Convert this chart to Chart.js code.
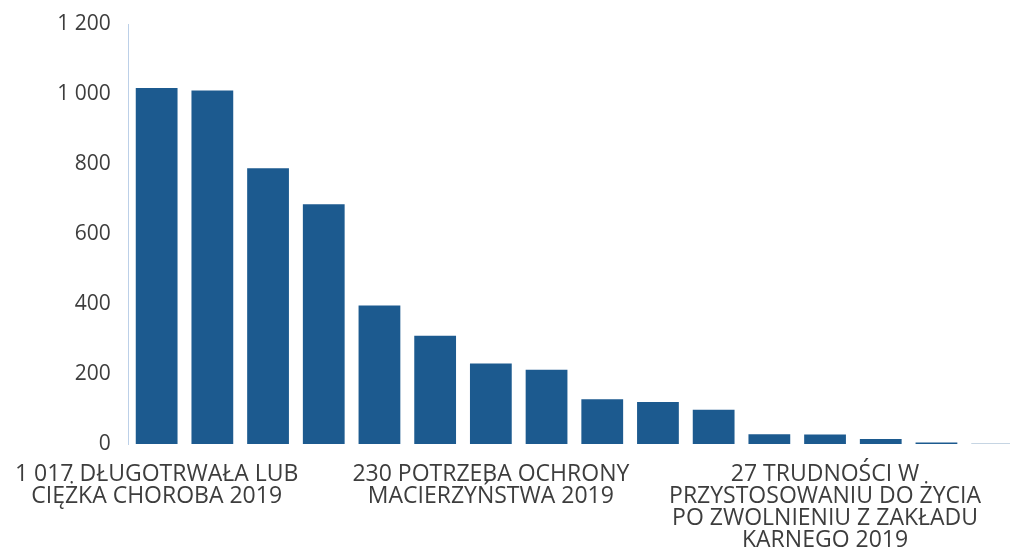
<!DOCTYPE html>
<html lang="pl">
<head>
<meta charset="utf-8">
<title>Powody przyznania pomocy 2019</title>
<script src="https://cdn.jsdelivr.net/npm/chart.js@4/dist/chart.umd.min.js"></script>
<style>
  html, body { margin: 0; padding: 0; background: #fff; overflow: hidden; }
  #wrap { position: absolute; left: 0; top: 0; width: 1020px; height: 550px; }
</style>
</head>
<body>
<div id="wrap"><canvas id="chartCanvas"></canvas></div>
<script>
// categories, sorted by number of cases (descending)
const categories = [
  'DŁUGOTRWAŁA LUB CIĘŻKA CHOROBA',
  'UBÓSTWO',
  'NIEPEŁNOSPRAWNOŚĆ',
  'BEZROBOCIE',
  'BEZRADNOŚĆ W SPRAWACH OPIEKUŃCZO-WYCHOWAWCZYCH',
  'ALKOHOLIZM',
  'POTRZEBA OCHRONY MACIERZYŃSTWA',
  'WIELODZIETNOŚĆ',
  'BEZDOMNOŚĆ',
  'PRZEMOC W RODZINIE',
  'RODZINA NIEPEŁNA',
  'ZDARZENIE LOSOWE',
  'TRUDNOŚCI W PRZYSTOSOWANIU DO ŻYCIA PO ZWOLNIENIU Z ZAKŁADU KARNEGO',
  'NARKOMANIA',
  'SYTUACJA KRYZYSOWA',
  'SIEROCTWO'
];
const values = [1017, 1010, 788, 685, 396, 309, 230, 212, 128, 120, 98, 28, 27, 14, 4, 1];
const year = '2019';
const yTicks = [0, 200, 400, 600, 800, 1000, 1200];

const textColor = '#3d3d3d';
const barColor = '#1c5a8f';

// "1017" -> "1 017"
function fmt(v) {
  return String(v).replace(/\B(?=(\d{3})+(?!\d))/g, ' ');
}

// break a label into lines of max n chars
function wrap(text, n) {
  const lines = [];
  let cur = '';
  text.split(' ').forEach(w => {
    if (cur && (cur + ' ' + w).length > n) {
      lines.push(cur);
      cur = w;
    } else {
      cur = cur ? cur + ' ' + w : w;
    }
  });
  if (cur) lines.push(cur);
  return lines;
}

const labels = categories.map((c, i) => fmt(values[i]) + ' ' + c + ' ' + year);

const ctx = document.getElementById('chartCanvas').getContext('2d');
new Chart(ctx, {
  type: 'bar',
  data: {
    labels: labels,
    datasets: [{
      data: values,
      backgroundColor: barColor,
      borderWidth: 0,
      barPercentage: 0.75,
      categoryPercentage: 1
    }]
  },
  options: {
    responsive: true,
    maintainAspectRatio: false,
    animation: false,
    layout: { padding: { top: 24, left: 0, right: 0, bottom: 0 } },
    plugins: {
      legend: { display: false },
      tooltip: { enabled: false }
    },
    scales: {
      x: {
        grid: { display: false },
        border: { display: false },
        ticks: {
          autoSkip: false,
          maxRotation: 0,
          minRotation: 0,
          padding: 11,
          color: textColor,
          font: { family: 'Open Sans', size: 23, lineHeight: 0.96 },
          // only every 6th category gets a label
          callback: function(val, index) {
            return index % 6 === 0 ? wrap(this.getLabelForValue(val), 23) : '';
          }
        },
        afterFit: scale => { scale.height = 106; }
      },
      y: {
        min: 0,
        max: 1200,
        grid: { display: false, drawTicks: false },
        border: { display: true, color: '#bcd0e8', width: 1 },
        afterBuildTicks: scale => { scale.ticks = yTicks.map(v => ({ value: v })); },
        ticks: {
          padding: 18,
          color: textColor,
          font: { family: 'Open Sans', size: 21 },
          callback: v => fmt(v)
        },
        afterFit: scale => {
          scale.width = 126;
          scale.paddingTop = 0;
        }
      }
    }
  }
});
</script>
</body>
</html>
